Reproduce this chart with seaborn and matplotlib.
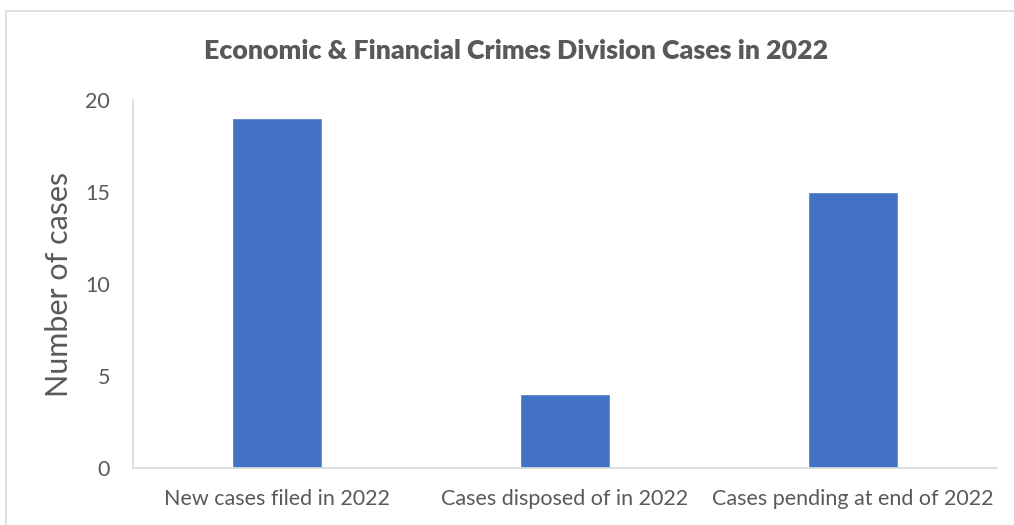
import matplotlib
matplotlib.use("Agg")
import matplotlib.pyplot as plt
from matplotlib.patches import Rectangle
import seaborn as sns
import pandas as pd

categories = ["New cases filed in 2022", "Cases disposed of in 2022", "Cases pending at end of 2022"]
case_counts = [19, 4, 15]
y_ticks = [0, 5, 10, 15, 20]

title = "Economic & Financial Crimes Division Cases in 2022"
y_label = "Number of cases"

sns.set_theme(style="white")
plt.rcParams["font.family"] = ["Lato", "DejaVu Sans"]

text_color = "#595959"
line_color = "#D9D9D9"
bar_color = "#4472C4"

W, H = 1014, 525
fig = plt.figure(figsize=(W / 100, H / 100), dpi=100)
ax = fig.add_axes([133 / W, 1 - 468 / H, (997 - 133) / W, (468 - 100) / H])

df = pd.DataFrame({"category": categories, "cases": case_counts})
sns.barplot(data=df, x="category", y="cases", color=bar_color, saturation=1,
            width=0.3125, ax=ax)

ax.set_ylim(0, 20)
ax.set_xlim(-0.5, len(categories) - 0.5)
ax.set_yticks(y_ticks)
ax.set_yticklabels([str(t) for t in y_ticks])
ax.tick_params(axis="y", length=0, pad=16.5, labelsize=15.5, labelcolor=text_color)
ax.tick_params(axis="x", length=0, pad=15, labelsize=15.5, labelcolor=text_color)
ax.set_xlabel("")
ax.set_ylabel(y_label, fontsize=22, color=text_color, labelpad=9)

for side in ["top", "right"]:
    ax.spines[side].set_visible(False)
for side in ["left", "bottom"]:
    ax.spines[side].set_color(line_color)
    ax.spines[side].set_linewidth(1.2)

fig.text(516 / W, 1 - 51 / H, title, ha="center", va="center",
         fontsize=19.3, fontweight="heavy", color=text_color)

# light frame around the chart area
fig.patches.append(Rectangle((6 / W, -0.1), 1.2, 1 - 11 / H + 0.1,
                             transform=fig.transFigure, fill=False,
                             edgecolor=line_color, linewidth=1.2))

fig.savefig("out.png", dpi=100, facecolor="white")
